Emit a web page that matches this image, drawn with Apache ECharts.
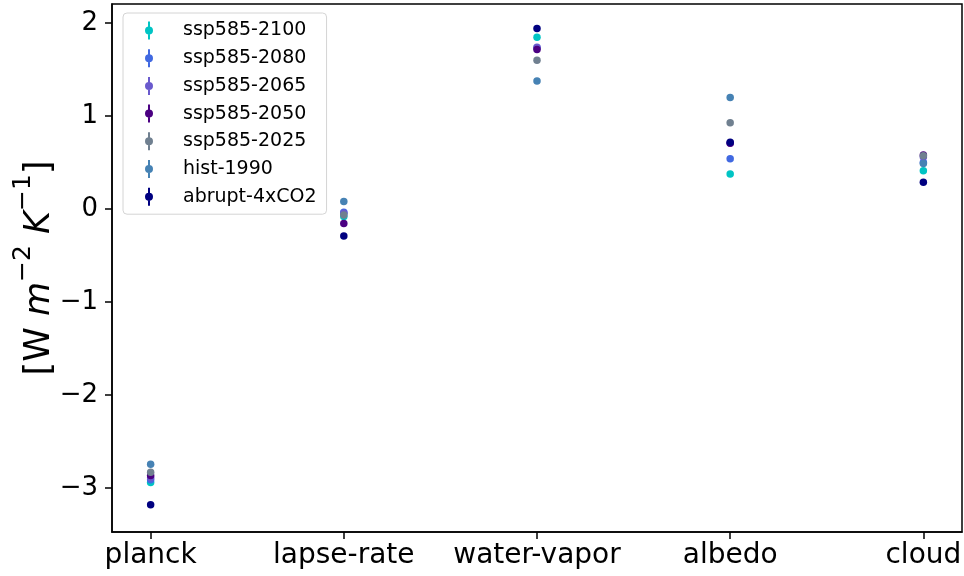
<!DOCTYPE html>
<html>
<head>
<meta charset="utf-8">
<script src="https://cdn.jsdelivr.net/npm/echarts@6/dist/echarts.min.js"></script>
<style>html,body{margin:0;padding:0;background:#fff}#c{width:964px;height:576px}</style>
</head>
<body>
<div id="c"></div>
<script>
const categories = ['planck', 'lapse-rate', 'water-vapor', 'albedo', 'cloud'];
const seriesNames = ['ssp585-2100', 'ssp585-2080', 'ssp585-2065', 'ssp585-2050', 'ssp585-2025', 'hist-1990', 'abrupt-4xCO2'];
const seriesColors = ['#00c4c4', '#4169e1', '#6a5acd', '#4b0082', '#708090', '#4682b4', '#000080'];
const ssp585_2100 = [-2.94, -0.08, 1.846, 0.376, 0.41];
const ssp585_2080 = [-2.91, -0.035, 1.73, 0.541, 0.50];
const ssp585_2065 = [-2.89, -0.046, 1.74, 0.71, 0.56];
const ssp585_2050 = [-2.865, -0.155, 1.715, 0.706, 0.58];
const ssp585_2025 = [-2.83, -0.065, 1.60, 0.928, 0.573];
const hist_1990 = [-2.745, 0.08, 1.376, 1.20, 0.49];
const abrupt_4xCO2 = [-3.18, -0.29, 1.94, 0.717, 0.287];
const yTicks = [-3, -2, -1, 0, 1, 2];
const xTicks = [0, 1, 2, 3, 4];

const allValues = [ssp585_2100, ssp585_2080, ssp585_2065, ssp585_2050, ssp585_2025, hist_1990, abrupt_4xCO2];

const chart = echarts.init(document.getElementById('c'), null, {renderer: 'canvas'});
const font = 'DejaVu Sans';
const series = allValues.map((vals, i) => ({
  name: seriesNames[i],
  type: 'scatter',
  symbol: 'circle',
  symbolSize: 7.5,
  itemStyle: {color: seriesColors[i], opacity: 1},
  data: vals.map((v, j) => [j, v]),
  z: 2 + i
}));

const icon = 'path://M5,0 L7,0 L7,18 L5,18 Z M2,9 A4,4 0 1,1 10,9 A4,4 0 1,1 2,9 Z';

chart.setOption({
  animation: false,
  grid: {left: 112, right: 2, top: 4, bottom: 44, show: true, borderColor: '#000', borderWidth: 1.5,
    backgroundColor: 'transparent', containLabel: false, outerBoundsMode: 'none'},
  legend: {
    orient: 'vertical',
    left: 123, top: 13,
    padding: [8, 10, 8, 22],
    backgroundColor: 'rgba(255,255,255,0.8)',
    borderColor: '#d4d4d4', borderWidth: 1, borderRadius: 4,
    icon: icon,
    itemWidth: 8, itemHeight: 18, itemGap: 8.7,
    textStyle: {fontFamily: font, fontSize: 19, lineHeight: 18, color: '#000', padding: [0, 0, 0, 25]},
    data: seriesNames
  },
  xAxis: {
    type: 'value', min: -0.2, max: 4.2,
    axisLine: {show: true, onZero: false, lineStyle: {color: '#000', width: 1.5}},
    axisTick: {show: true, length: 7, lineStyle: {color: '#000', width: 1.5}, customValues: xTicks},
    axisLabel: {fontFamily: font, fontSize: 28, color: '#000', margin: 10, customValues: xTicks,
      formatter: v => categories[Math.round(v)]},
    splitLine: {show: false}
  },
  yAxis: {
    type: 'value', min: -3.473, max: 2.204,
    axisLine: {show: true, onZero: false, lineStyle: {color: '#000', width: 1.5}},
    axisTick: {show: true, length: 7, lineStyle: {color: '#000', width: 1.5}, customValues: yTicks},
    axisLabel: {fontFamily: font, fontSize: 26, color: '#000', margin: 14, customValues: yTicks,
      formatter: v => String(v).replace('-', '\u2212')},
    splitLine: {show: false},
    name: '{a|[W }{i|m}{s|\u22122}{a| }{i|K}{s|\u22121}{a|]}',
    nameLocation: 'middle', nameRotate: 90, nameGap: 55, nameMoveOverlap: false,
    nameTextStyle: {
      fontFamily: font, color: '#000',
      rich: {
        a: {fontFamily: font, fontSize: 35, lineHeight: 46, verticalAlign: 'bottom', color: '#000'},
        i: {fontFamily: font, fontSize: 35, fontStyle: 'italic', lineHeight: 46, verticalAlign: 'bottom', color: '#000'},
        s: {fontFamily: font, fontSize: 25, lineHeight: 46, verticalAlign: 'top', color: '#000'}
      }
    }
  },
  series: series
});
</script>
</body>
</html>
